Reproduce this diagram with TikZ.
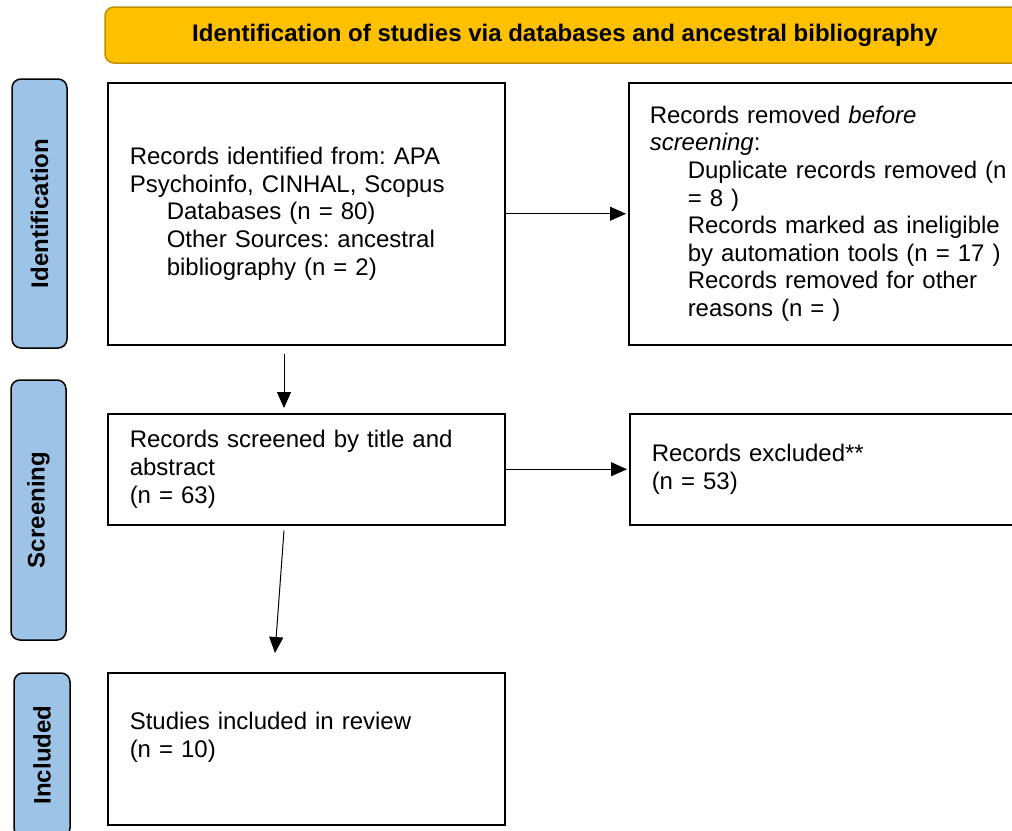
\documentclass[tikz,border=0pt]{standalone}
\usepackage{fontspec}
\setmainfont{Liberation Sans}
\usetikzlibrary{arrows.meta,calc}
\definecolor{gold}{HTML}{FFC000}
\definecolor{goldedge}{HTML}{BF9000}
\definecolor{phaseblue}{HTML}{9DC3E6}
\frenchspacing
\begin{document}
\begin{tikzpicture}[x=1pt,y=-1pt,
  txt/.style={font=\fontsize{24pt}{27.6pt}\selectfont},
  box/.style={txt, draw, line width=1.5pt, anchor=north west, inner ysep=0pt, align=left},
  phase/.style={draw, line width=1.5pt, fill=phaseblue, rounded corners=9pt, rotate=90,
    inner sep=0pt, font=\fontsize{24pt}{27.6pt}\selectfont\bfseries},
  arr/.style={line width=1pt, -{Triangle[length=16pt,width=14pt]}}
]
\useasboundingbox (0,0) rectangle (1012,830);
\clip (0,0) rectangle (1012,830);

\node[draw=goldedge, fill=gold, line width=1.5pt, rounded corners=9pt, minimum width=920pt, minimum height=56pt,
  inner sep=0pt, font=\fontsize{24pt}{27.6pt}\selectfont\bfseries] (title) at (565,35)
  {Identification of studies via databases and ancestral bibliography};

\node[phase, minimum width=269pt, minimum height=55pt] (pid) at (39.5,213.5) {Identification};
\node[phase, minimum width=260pt, minimum height=55pt] (psc) at (38.5,510) {Screening};
\node[phase, minimum width=164pt, minimum height=56pt] (pin) at (42,755) {Included};

\node[box, inner xsep=22pt, text width=353pt, minimum height=262pt] (box1) at (107,82)
  {Records identified from: APA\\
   Psychoinfo, CINHAL, Scopus\\
   \hspace*{37pt}Databases (n = 80)\\
   \hspace*{37pt}Other Sources: ancestral\\
   \hspace*{37pt}bibliography (n = 2)};

\node[box, inner xsep=21pt, text width=360pt, minimum height=262pt] (box2) at (628,82)
  {Records removed \textit{before}\\
   \textit{screening}:\\
   \hspace*{38pt}Duplicate records removed (n\\
   \hspace*{38pt}= 8 )\\
   \hspace*{38pt}Records marked as ineligible\\
   \hspace*{38pt}by automation tools (n = 17 )\\
   \hspace*{38pt}Records removed for other\\
   \hspace*{38pt}reasons (n = )};

\node[box, inner xsep=22pt, text width=353pt, minimum height=111pt] (box3) at (107,413)
  {Records screened by title and\\
   abstract\\
   (n = 63)};

\node[box, inner xsep=22pt, text width=360pt, minimum height=111pt] (box4) at (629,413)
  {Records excluded**\\
   (n = 53)};

\node[box, inner xsep=22pt, text width=353pt, minimum height=152pt] (box5) at (107,672)
  {Studies included in review\\
   (n = 10)\\
   \mbox{}};

\draw[arr, shorten >=2pt] (box1.east) -- (box2.west);
\draw[arr, shorten >=2pt] (box3.east) -- (box4.west);
\draw[arr] ($(box1.south west)+(177,8)$) -- ($(box3.north west)+(177,-5)$);
\draw[arr] ($(box3.south west)+(177,5)$) -- ($(box5.north west)+(168,-19)$);
\end{tikzpicture}
\end{document}
